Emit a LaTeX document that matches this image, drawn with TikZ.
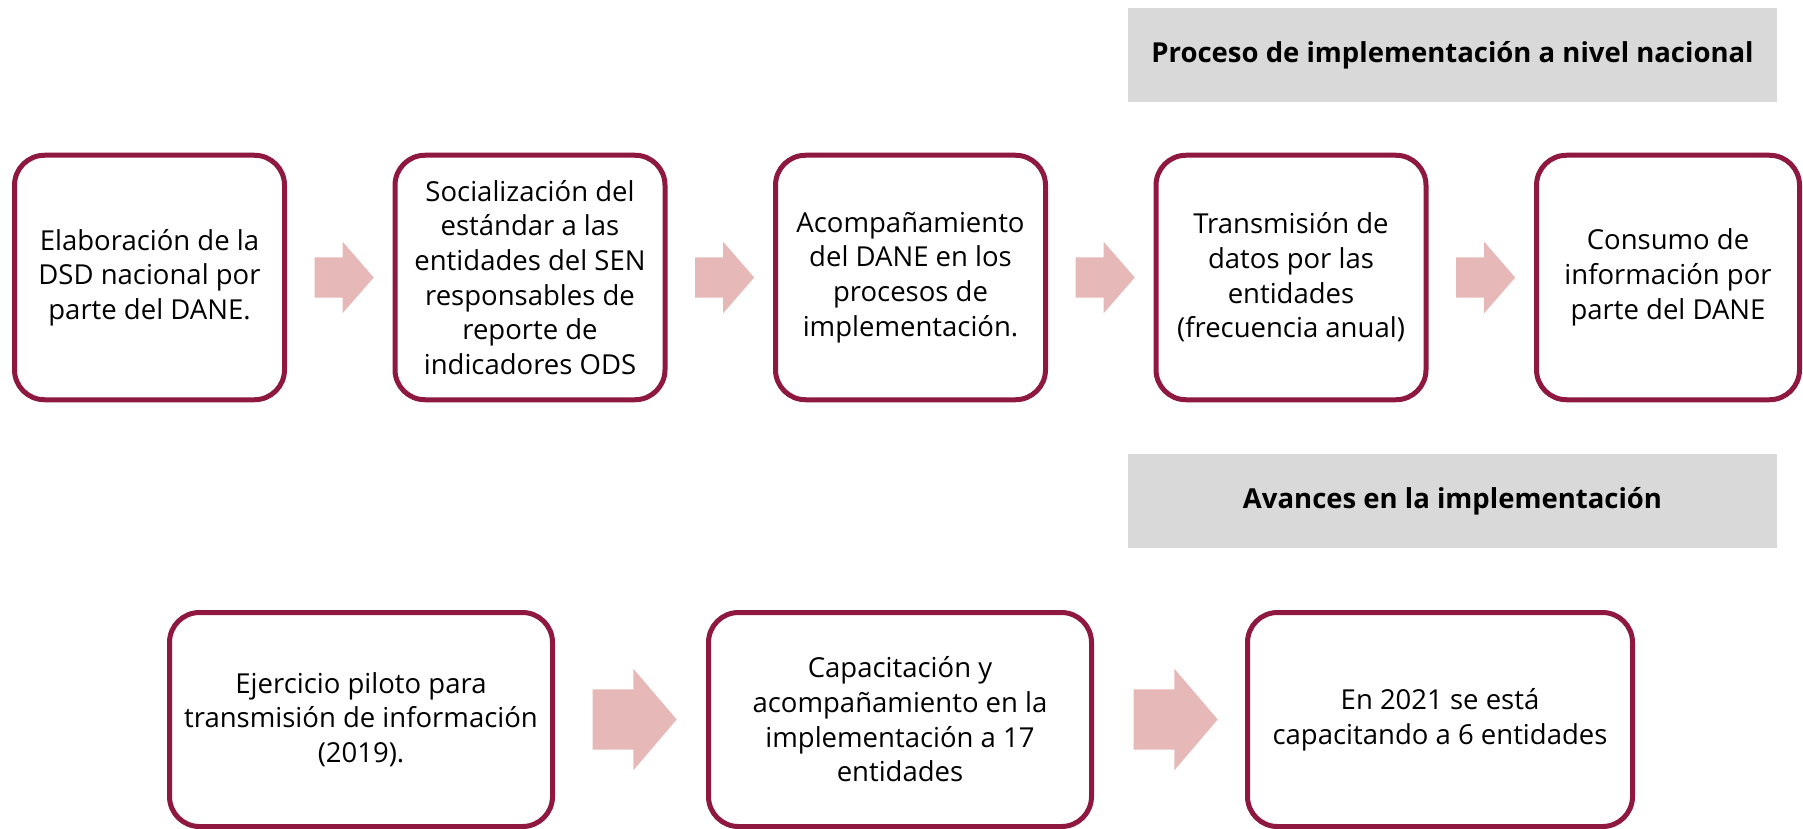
\documentclass[tikz,border=0pt]{standalone}
\usepackage{fontspec}
\setmainfont{Open Sans}
\usetikzlibrary{positioning,calc,shapes.arrows}
\definecolor{vino}{RGB}{142,24,64}
\definecolor{rosa}{RGB}{230,184,183}
\definecolor{gris}{RGB}{217,217,217}

\begin{document}
\begin{tikzpicture}[x=1pt,y=-1pt,node distance=380.5pt,on grid,
   paso/.style={draw=vino,line width=5pt,rounded corners=30pt,fill=white,inner sep=0pt,
     minimum width=270pt,minimum height=244.5pt,align=center,font=\fontsize{27.5}{34.7}\selectfont},
   pasobajo/.style={paso,minimum width=383pt,minimum height=214pt},
   titulo/.style={fill=gris,minimum width=649pt,minimum height=93.7pt,inner sep=0pt,
     font=\fontsize{27.5}{34.7}\selectfont\bfseries},
   flecha/.style={single arrow,fill=rosa,draw=none,inner sep=0pt,inner ysep=20pt,
     single arrow head extend=15.5pt,single arrow tip angle=98,minimum height=59pt,anchor=tail},
   flechagrande/.style={flecha,inner ysep=30pt,single arrow head extend=20.5pt,
     single arrow tip angle=99,minimum height=84pt}]
   \useasboundingbox (0,0) rectangle (1803,829);

   \node[titulo] (t1) at (1452.5,54.9) {Proceso de implementación a nivel nacional};
   \node[titulo] (t2) at (1452.5,500.9) {Avances en la implementación};

   \node[paso] (p1) at (149.5,277.5) {Elaboración de la\\DSD nacional por\\parte del DANE.};
   \node[paso] (p2) [right=of p1] {Socialización del\\estándar a las\\entidades del SEN\\responsables de\\reporte de\\indicadores ODS};
   \node[paso] (p3) [right=of p2] {Acompañamiento\\del DANE en los\\procesos de\\implementación.};
   \node[paso] (p4) [right=of p3] {Transmisión de\\datos por las\\entidades\\(frecuencia anual)};
   \node[paso,minimum width=263pt] (p5) [right=377pt of p4] {Consumo de\\información por\\parte del DANE};

   \node[pasobajo] (a1) at (361,719.5) {Ejercicio piloto para\\transmisión de información\\(2019).};
   \node[pasobajo] (a2) [right=539pt of a1] {Capacitación y\\acompañamiento en la\\implementación a 17\\entidades};
   \node[pasobajo,minimum width=385pt] (a3) [right=540pt of a2] {En 2021 se está\\capacitando a 6 entidades};

   \node[flecha] (f1) at ($(p1.east)+(27.5,0)$) {};
   \node[flecha] (f2) at ($(p2.east)+(27.5,0)$) {};
   \node[flecha] (f3) at ($(p3.east)+(27.5,0)$) {};
   \node[flecha] (f4) at ($(p4.east)+(27.5,0)$) {};
   \node[flechagrande] (g1) at ($(a1.east)+(37.5,0)$) {};
   \node[flechagrande] (g2) at ($(a2.east)+(39.5,0)$) {};
\end{tikzpicture}
\end{document}
